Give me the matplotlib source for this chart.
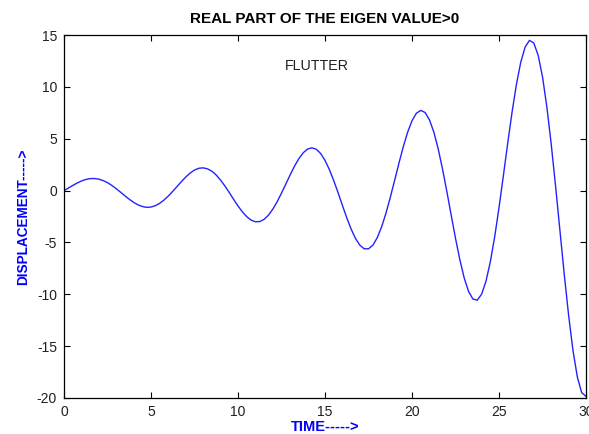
import numpy as np
import matplotlib
matplotlib.use('Agg')
from matplotlib import pyplot as plt

plt.rcParams['font.family'] = ['Liberation Sans', 'DejaVu Sans']
plt.rcParams['axes.unicode_minus'] = False

#================================ data =================================
# time samples (s)
time = np.arange(0, 30.01, 0.25)

# displacement response (growing oscillation, flutter)
displacement = [
    0.00, 0.25, 0.50, 0.73, 0.93, 1.08, 1.16, 1.17, 1.11, 0.97,
    0.77, 0.50, 0.19, -0.15, -0.50, -0.83, -1.13, -1.37, -1.53, -1.61,
    -1.58, -1.45, -1.22, -0.90, -0.51, -0.06, 0.41, 0.88, 1.32, 1.70,
    1.99, 2.16, 2.20, 2.10, 1.87, 1.50, 1.01, 0.44, -0.19, -0.85,
    -1.48, -2.05, -2.51, -2.84, -3.00, -2.98, -2.77, -2.36, -1.78, -1.06,
    -0.23, 0.65, 1.54, 2.38, 3.10, 3.66, 4.02, 4.13, 3.99, 3.58,
    2.91, 2.03, 0.97, -0.20, -1.43, -2.62, -3.71, -4.61, -5.26, -5.61,
    -5.61, -5.26, -4.54, -3.50, -2.18, -0.65, 1.00, 2.67, 4.26, 5.65,
    6.75, 7.47, 7.74, 7.54, 6.83, 5.66, 4.05, 2.10, -0.08, -2.37,
    -4.62, -6.69, -8.44, -9.73, -10.46, -10.56, -9.98, -8.73, -6.85, -4.44,
    -1.61, 1.46, 4.60, 7.60, 10.27, 12.41, 13.86, 14.50, 14.23, 13.04,
    10.96, 8.04, 4.45, 0.41, -3.87, -8.12, -12.06, -15.44, -17.98, -19.50,
    -19.84,
]

x_ticks = [0, 5, 10, 15, 20, 25, 30]
y_ticks = [-20, -15, -10, -5, 0, 5, 10, 15]

#================================ plot =================================
fig = plt.figure(figsize=(5.89, 4.34), dpi=100)
ax = fig.add_axes([0.1087, 0.083, 0.8863, 0.836])

ax.plot(time, displacement, color='#2222ff', linewidth=1.0)

ax.set_xlim(0, 30)
ax.set_ylim(-20, 15)
ax.set_xticks(x_ticks)
ax.set_yticks(y_ticks)
ax.tick_params(direction='in', length=4, width=0.8, top=True, right=True,
               labelsize=10, pad=5, colors='black')
for tl in ax.get_xticklabels() + ax.get_yticklabels():
    tl.set_color('#202020')
for spine in ax.spines.values():
    spine.set_linewidth(0.9)

ax.set_title('REAL PART OF THE EIGEN VALUE>0', fontsize=11, fontweight='bold', pad=9)
ax.set_xlabel('TIME----->', fontsize=10.5, fontweight='bold', color='blue', labelpad=1)
ax.set_ylabel('DISPLACEMENT----->', fontsize=9.8, fontweight='bold', color='blue', labelpad=5)

ax.text(12.7, 12, 'FLUTTER', fontsize=10.3, ha='left', va='center', color='#202020')

fig.savefig('out.png', dpi=100)
